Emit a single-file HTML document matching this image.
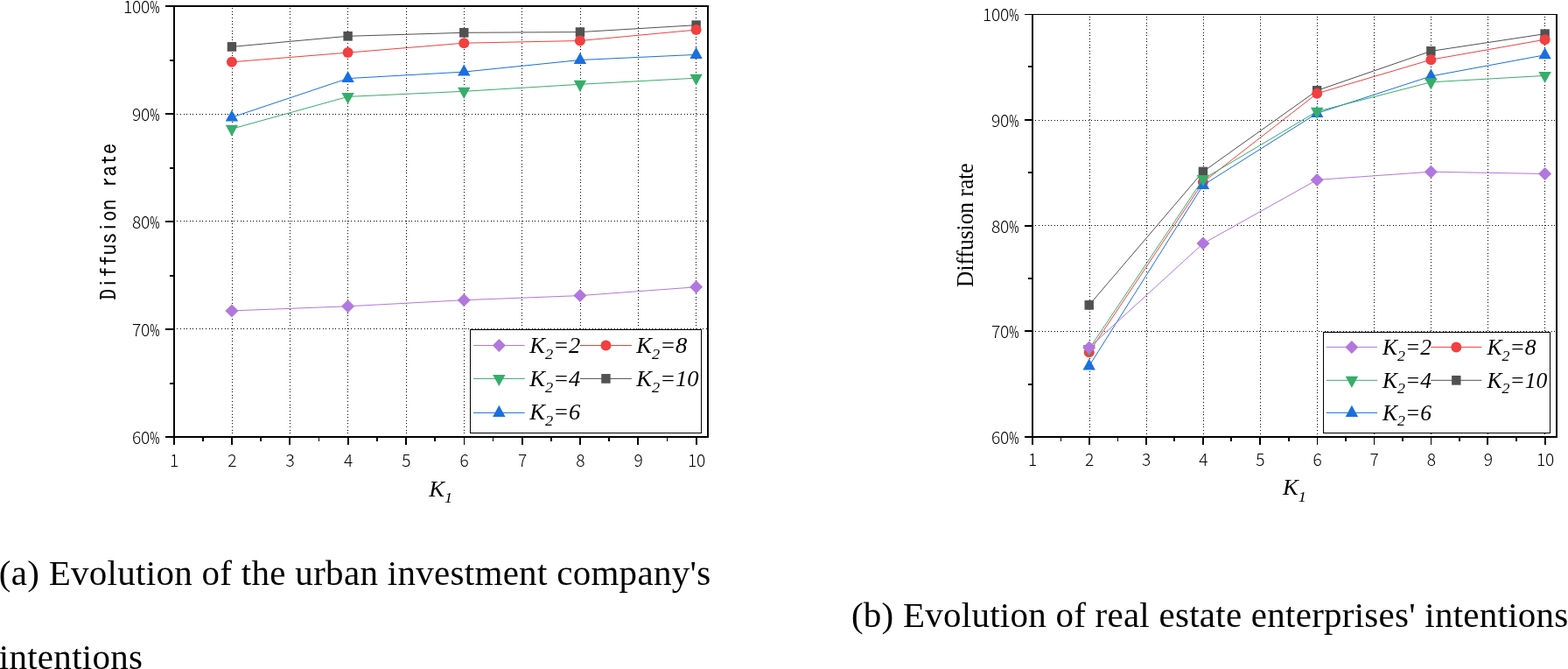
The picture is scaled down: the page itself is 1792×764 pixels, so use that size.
<!DOCTYPE html>
<html lang="en">
<head>
<meta charset="utf-8">
<title>Evolution of intentions</title>
<style>
html, body { margin: 0; padding: 0; background: #ffffff; }
body { width: 1792px; height: 764px; overflow: hidden; position: relative; }
svg { position: absolute; left: 0; top: 0; display: block; }
.cap { position: absolute; margin: 0; font-family: "Liberation Serif", serif; font-size: 41px; line-height: 95px; color: #000; white-space: nowrap; }
</style>
</head>
<body>
<svg width="1792" height="764" viewBox="0 0 1792 764">
<rect x="0" y="0" width="1792" height="764" fill="#ffffff"/>
<g id="chart-a">
<g stroke="#000" stroke-width="1" stroke-dasharray="1 2.620" fill="none" shape-rendering="crispEdges">
<line x1="265.5" y1="9.16" x2="265.5" y2="498"/>
<line x1="331.5" y1="9.16" x2="331.5" y2="498"/>
<line x1="397.5" y1="9.16" x2="397.5" y2="498"/>
<line x1="464.5" y1="9.16" x2="464.5" y2="498"/>
<line x1="530.5" y1="9.16" x2="530.5" y2="498"/>
<line x1="596.5" y1="9.16" x2="596.5" y2="498"/>
<line x1="663.5" y1="9.16" x2="663.5" y2="498"/>
<line x1="729.5" y1="9.16" x2="729.5" y2="498"/>
<line x1="795.5" y1="9.16" x2="795.5" y2="498"/>
<line x1="202.31" y1="130.5" x2="808" y2="130.5"/>
<line x1="202.31" y1="252.5" x2="808" y2="252.5"/>
<line x1="202.31" y1="375.5" x2="808" y2="375.5"/>
</g>
<polyline points="264.93,53.4 397.6,41.3 530.27,37.3 662.93,36.6 795.6,28.7" fill="none" stroke="#515151" stroke-width="1"/>
<rect x="259.73" y="48.05" width="10.4" height="10.7" fill="#515151"/>
<rect x="392.4" y="35.95" width="10.4" height="10.7" fill="#515151"/>
<rect x="525.07" y="31.95" width="10.4" height="10.7" fill="#515151"/>
<rect x="657.73" y="31.25" width="10.4" height="10.7" fill="#515151"/>
<rect x="790.4" y="23.35" width="10.4" height="10.7" fill="#515151"/>
<polyline points="264.93,70.8 397.6,60.1 530.27,49.2 662.93,46.5 795.6,34.1" fill="none" stroke="#F14040" stroke-width="1"/>
<circle cx="264.93" cy="70.8" r="6" fill="#F14040"/>
<circle cx="397.6" cy="60.1" r="6" fill="#F14040"/>
<circle cx="530.27" cy="49.2" r="6" fill="#F14040"/>
<circle cx="662.93" cy="46.5" r="6" fill="#F14040"/>
<circle cx="795.6" cy="34.1" r="6" fill="#F14040"/>
<polyline points="264.93,134 397.6,89.6 530.27,82.1 662.93,68.5 795.6,62.4" fill="none" stroke="#1A6FDF" stroke-width="1"/>
<polygon points="264.93,125.4 272.13,138.5 257.73,138.5" fill="#1A6FDF"/>
<polygon points="397.6,81 404.8,94.1 390.4,94.1" fill="#1A6FDF"/>
<polygon points="530.27,73.5 537.47,86.6 523.07,86.6" fill="#1A6FDF"/>
<polygon points="662.93,59.9 670.13,73 655.73,73" fill="#1A6FDF"/>
<polygon points="795.6,53.8 802.8,66.9 788.4,66.9" fill="#1A6FDF"/>
<polyline points="264.93,147.2 397.6,110.4 530.27,104.3 662.93,96.3 795.6,89.2" fill="none" stroke="#37AD6B" stroke-width="1"/>
<polygon points="264.93,155.8 272.13,142.7 257.73,142.7" fill="#37AD6B"/>
<polygon points="397.6,119 404.8,105.9 390.4,105.9" fill="#37AD6B"/>
<polygon points="530.27,112.9 537.47,99.8 523.07,99.8" fill="#37AD6B"/>
<polygon points="662.93,104.9 670.13,91.8 655.73,91.8" fill="#37AD6B"/>
<polygon points="795.6,97.8 802.8,84.7 788.4,84.7" fill="#37AD6B"/>
<polyline points="264.93,354.9 397.6,349.8 530.27,342.7 662.93,337.6 795.6,327.8" fill="none" stroke="#B177DE" stroke-width="1"/>
<polygon points="264.93,347.4 272.43,354.9 264.93,362.4 257.43,354.9" fill="#B177DE"/>
<polygon points="397.6,342.3 405.1,349.8 397.6,357.3 390.1,349.8" fill="#B177DE"/>
<polygon points="530.27,335.2 537.77,342.7 530.27,350.2 522.77,342.7" fill="#B177DE"/>
<polygon points="662.93,330.1 670.43,337.6 662.93,345.1 655.43,337.6" fill="#B177DE"/>
<polygon points="795.6,320.3 803.1,327.8 795.6,335.3 788.1,327.8" fill="#B177DE"/>
<g fill="#000" shape-rendering="crispEdges">
<rect x="198" y="6" width="2" height="494"/>
<rect x="808" y="6" width="2" height="494"/>
<rect x="198" y="498" width="612" height="2"/>
<rect x="198" y="6" width="612" height="2"/>
<rect x="198" y="500" width="2" height="8"/>
<rect x="231" y="500" width="2" height="4"/>
<rect x="264" y="500" width="2" height="8"/>
<rect x="297" y="500" width="2" height="4"/>
<rect x="330" y="500" width="2" height="8"/>
<rect x="364" y="500" width="1" height="4"/>
<rect x="397" y="500" width="2" height="8"/>
<rect x="430" y="500" width="2" height="4"/>
<rect x="463" y="500" width="2" height="8"/>
<rect x="496" y="500" width="2" height="4"/>
<rect x="530" y="500" width="1" height="8"/>
<rect x="563" y="500" width="1" height="4"/>
<rect x="596" y="500" width="2" height="8"/>
<rect x="629" y="500" width="2" height="4"/>
<rect x="662" y="500" width="2" height="8"/>
<rect x="695" y="500" width="2" height="4"/>
<rect x="728" y="500" width="2" height="8"/>
<rect x="762" y="500" width="1" height="4"/>
<rect x="795" y="500" width="2" height="8"/>
<rect x="189" y="6" width="9" height="2"/>
<rect x="194" y="68" width="4" height="2"/>
<rect x="189" y="129" width="9" height="2"/>
<rect x="194" y="191" width="4" height="2"/>
<rect x="189" y="252" width="9" height="2"/>
<rect x="194" y="314" width="4" height="2"/>
<rect x="189" y="375" width="9" height="2"/>
<rect x="194" y="437" width="4" height="2"/>
<rect x="189" y="498" width="9" height="2"/>
</g>
<g font-family='"Noto Sans CJK SC", "Liberation Sans", sans-serif' font-weight="300" font-size="19.2" fill="#000">
<text y="533.2"><tspan x="193.9">1</tspan></text>
<text y="533.2"><tspan x="260.23">2</tspan></text>
<text y="533.2"><tspan x="326.57">3</tspan></text>
<text y="533.2"><tspan x="392.9">4</tspan></text>
<text y="533.2"><tspan x="459.23">5</tspan></text>
<text y="533.2"><tspan x="525.57">6</tspan></text>
<text y="533.2"><tspan x="591.9">7</tspan></text>
<text y="533.2"><tspan x="658.23">8</tspan></text>
<text y="533.2"><tspan x="724.57">9</tspan></text>
<text y="533.2"><tspan x="785.9 795.9">10</tspan></text>
<text y="15"><tspan x="141 151 161">100</tspan><tspan x="171.2" textLength="11.2" lengthAdjust="spacingAndGlyphs" font-weight="400">%</tspan></text>
<text y="138"><tspan x="151 161">90</tspan><tspan x="171.2" textLength="11.2" lengthAdjust="spacingAndGlyphs" font-weight="400">%</tspan></text>
<text y="261"><tspan x="151 161">80</tspan><tspan x="171.2" textLength="11.2" lengthAdjust="spacingAndGlyphs" font-weight="400">%</tspan></text>
<text y="384"><tspan x="151 161">70</tspan><tspan x="171.2" textLength="11.2" lengthAdjust="spacingAndGlyphs" font-weight="400">%</tspan></text>
<text y="507"><tspan x="151 161">60</tspan><tspan x="171.2" textLength="11.2" lengthAdjust="spacingAndGlyphs" font-weight="400">%</tspan></text>
</g>
<text transform="translate(132.6,253) rotate(-90) scale(1,1)" text-anchor="middle" font-family='"IPAGothic", "Liberation Mono", monospace' font-size="25.6" fill="#000">Diffusion rate</text>
<text transform="translate(490.3,566.7) scale(1.04,1)" font-family='"Liberation Serif", serif' font-style="italic" font-size="25.6" fill="#000">K<tspan font-size="17.6" dy="7.4">1</tspan></text>
<rect x="537.5" y="376.5" width="264" height="118" fill="#fff" stroke="#000" stroke-width="1" shape-rendering="crispEdges"/>
<line x1="541" y1="394.5" x2="599.7" y2="394.5" stroke="#B177DE" stroke-width="1"/>
<polygon points="570.35,387 577.85,394.5 570.35,402 562.85,394.5" fill="#B177DE"/>
<text transform="translate(605.2,403.2) scale(1.07,1)" font-family='"Liberation Serif", serif' font-style="italic" font-size="24.85" fill="#000">K<tspan font-size="17.2" dy="6.4">2</tspan><tspan dy="-6.4">=2</tspan></text>
<line x1="541" y1="432.4" x2="599.7" y2="432.4" stroke="#37AD6B" stroke-width="1"/>
<polygon points="570.35,441 577.55,427.9 563.15,427.9" fill="#37AD6B"/>
<text transform="translate(605.2,441.1) scale(1.07,1)" font-family='"Liberation Serif", serif' font-style="italic" font-size="24.85" fill="#000">K<tspan font-size="17.2" dy="6.4">2</tspan><tspan dy="-6.4">=4</tspan></text>
<line x1="541" y1="471.4" x2="599.7" y2="471.4" stroke="#1A6FDF" stroke-width="1"/>
<polygon points="570.35,462.8 577.55,475.9 563.15,475.9" fill="#1A6FDF"/>
<text transform="translate(605.2,479.3) scale(1.07,1)" font-family='"Liberation Serif", serif' font-style="italic" font-size="24.85" fill="#000">K<tspan font-size="17.2" dy="6.4">2</tspan><tspan dy="-6.4">=6</tspan></text>
<line x1="663" y1="394.5" x2="721.9" y2="394.5" stroke="#F14040" stroke-width="1"/>
<circle cx="692.45" cy="394.5" r="6" fill="#F14040"/>
<text transform="translate(727.2,403.2) scale(1.07,1)" font-family='"Liberation Serif", serif' font-style="italic" font-size="24.85" fill="#000">K<tspan font-size="17.2" dy="6.4">2</tspan><tspan dy="-6.4">=8</tspan></text>
<line x1="663" y1="432.4" x2="721.9" y2="432.4" stroke="#515151" stroke-width="1"/>
<rect x="687.25" y="427.05" width="10.4" height="10.7" fill="#515151"/>
<text transform="translate(727.2,441.1) scale(1.07,1)" font-family='"Liberation Serif", serif' font-style="italic" font-size="24.85" fill="#000">K<tspan font-size="17.2" dy="6.4">2</tspan><tspan dy="-6.4">=10</tspan></text>
</g>
<g id="chart-b">
<g stroke="#000" stroke-width="1" stroke-dasharray="1 2.550" fill="none" shape-rendering="crispEdges">
<line x1="1245.5" y1="18.82" x2="1245.5" y2="498"/>
<line x1="1310.5" y1="18.82" x2="1310.5" y2="498"/>
<line x1="1375.5" y1="18.82" x2="1375.5" y2="498"/>
<line x1="1440.5" y1="18.82" x2="1440.5" y2="498"/>
<line x1="1505.5" y1="18.82" x2="1505.5" y2="498"/>
<line x1="1570.5" y1="18.82" x2="1570.5" y2="498"/>
<line x1="1635.5" y1="18.82" x2="1635.5" y2="498"/>
<line x1="1700.5" y1="18.82" x2="1700.5" y2="498"/>
<line x1="1765.5" y1="18.82" x2="1765.5" y2="498"/>
<line x1="1183.47" y1="137.5" x2="1778" y2="137.5"/>
<line x1="1183.47" y1="257.5" x2="1778" y2="257.5"/>
<line x1="1183.47" y1="378.5" x2="1778" y2="378.5"/>
</g>
<polyline points="1244.71,348.4 1374.93,196 1505.16,103.4 1635.38,58.4 1765.6,38.7" fill="none" stroke="#515151" stroke-width="1"/>
<rect x="1239.51" y="343.05" width="10.4" height="10.7" fill="#515151"/>
<rect x="1369.73" y="190.65" width="10.4" height="10.7" fill="#515151"/>
<rect x="1499.96" y="98.05" width="10.4" height="10.7" fill="#515151"/>
<rect x="1630.18" y="53.05" width="10.4" height="10.7" fill="#515151"/>
<rect x="1760.4" y="33.35" width="10.4" height="10.7" fill="#515151"/>
<polyline points="1244.71,402.2 1374.93,208.1 1505.16,106.75 1635.38,68.2 1765.6,45.2" fill="none" stroke="#F14040" stroke-width="1"/>
<circle cx="1244.71" cy="402.2" r="6" fill="#F14040"/>
<circle cx="1374.93" cy="208.1" r="6" fill="#F14040"/>
<circle cx="1505.16" cy="106.75" r="6" fill="#F14040"/>
<circle cx="1635.38" cy="68.2" r="6" fill="#F14040"/>
<circle cx="1765.6" cy="45.2" r="6" fill="#F14040"/>
<polyline points="1244.71,418 1374.93,211.5 1505.16,129.4 1635.38,87 1765.6,62.8" fill="none" stroke="#1A6FDF" stroke-width="1"/>
<polygon points="1244.71,409.4 1251.91,422.5 1237.51,422.5" fill="#1A6FDF"/>
<polygon points="1374.93,202.9 1382.13,216 1367.73,216" fill="#1A6FDF"/>
<polygon points="1505.16,120.8 1512.36,133.9 1497.96,133.9" fill="#1A6FDF"/>
<polygon points="1635.38,78.4 1642.58,91.5 1628.18,91.5" fill="#1A6FDF"/>
<polygon points="1765.6,54.2 1772.8,67.3 1758.4,67.3" fill="#1A6FDF"/>
<polyline points="1244.71,398.5 1374.93,204.6 1505.16,127.3 1635.38,93.8 1765.6,86.4" fill="none" stroke="#37AD6B" stroke-width="1"/>
<polygon points="1244.71,407.1 1251.91,394 1237.51,394" fill="#37AD6B"/>
<polygon points="1374.93,213.2 1382.13,200.1 1367.73,200.1" fill="#37AD6B"/>
<polygon points="1505.16,135.9 1512.36,122.8 1497.96,122.8" fill="#37AD6B"/>
<polygon points="1635.38,102.4 1642.58,89.3 1628.18,89.3" fill="#37AD6B"/>
<polygon points="1765.6,95 1772.8,81.9 1758.4,81.9" fill="#37AD6B"/>
<polyline points="1244.71,397 1374.93,278.1 1505.16,205.4 1635.38,196.2 1765.6,198.5" fill="none" stroke="#B177DE" stroke-width="1"/>
<polygon points="1244.71,389.5 1252.21,397 1244.71,404.5 1237.21,397" fill="#B177DE"/>
<polygon points="1374.93,270.6 1382.43,278.1 1374.93,285.6 1367.43,278.1" fill="#B177DE"/>
<polygon points="1505.16,197.9 1512.66,205.4 1505.16,212.9 1497.66,205.4" fill="#B177DE"/>
<polygon points="1635.38,188.7 1642.88,196.2 1635.38,203.7 1627.88,196.2" fill="#B177DE"/>
<polygon points="1765.6,191 1773.1,198.5 1765.6,206 1758.1,198.5" fill="#B177DE"/>
<g fill="#000" shape-rendering="crispEdges">
<rect x="1179" y="16" width="2" height="484"/>
<rect x="1778" y="16" width="2" height="484"/>
<rect x="1179" y="498" width="601" height="2"/>
<rect x="1179" y="16" width="601" height="1"/>
<rect x="1179" y="500" width="2" height="8"/>
<rect x="1212" y="500" width="1" height="4"/>
<rect x="1244" y="500" width="2" height="8"/>
<rect x="1277" y="500" width="1" height="4"/>
<rect x="1309" y="500" width="2" height="8"/>
<rect x="1341" y="500" width="2" height="4"/>
<rect x="1374" y="500" width="2" height="8"/>
<rect x="1406" y="500" width="2" height="4"/>
<rect x="1439" y="500" width="2" height="8"/>
<rect x="1472" y="500" width="2" height="4"/>
<rect x="1505" y="500" width="1" height="8"/>
<rect x="1537" y="500" width="2" height="4"/>
<rect x="1570" y="500" width="1" height="8"/>
<rect x="1602" y="500" width="2" height="4"/>
<rect x="1635" y="500" width="1" height="8"/>
<rect x="1667" y="500" width="2" height="4"/>
<rect x="1699" y="500" width="2" height="8"/>
<rect x="1732" y="500" width="2" height="4"/>
<rect x="1765" y="500" width="2" height="8"/>
<rect x="1171" y="16" width="8" height="1"/>
<rect x="1175" y="75" width="4" height="2"/>
<rect x="1171" y="136" width="8" height="2"/>
<rect x="1175" y="196" width="4" height="2"/>
<rect x="1171" y="257" width="8" height="2"/>
<rect x="1175" y="317" width="4" height="2"/>
<rect x="1171" y="377" width="8" height="2"/>
<rect x="1175" y="438" width="4" height="2"/>
<rect x="1171" y="498" width="8" height="2"/>
</g>
<g font-family='"Noto Sans CJK SC", "Liberation Sans", sans-serif' font-weight="300" font-size="19.2" fill="#000">
<text y="531.8"><tspan x="1174.9">1</tspan></text>
<text y="531.8"><tspan x="1240.01">2</tspan></text>
<text y="531.8"><tspan x="1305.12">3</tspan></text>
<text y="531.8"><tspan x="1370.23">4</tspan></text>
<text y="531.8"><tspan x="1435.34">5</tspan></text>
<text y="531.8"><tspan x="1500.46">6</tspan></text>
<text y="531.8"><tspan x="1565.57">7</tspan></text>
<text y="531.8"><tspan x="1630.68">8</tspan></text>
<text y="531.8"><tspan x="1695.79">9</tspan></text>
<text y="531.8"><tspan x="1755.9 1765.9">10</tspan></text>
<text y="24.05"><tspan x="1123 1133 1143">100</tspan><tspan x="1153.2" textLength="11.2" lengthAdjust="spacingAndGlyphs" font-weight="400">%</tspan></text>
<text y="144.79"><tspan x="1133 1143">90</tspan><tspan x="1153.2" textLength="11.2" lengthAdjust="spacingAndGlyphs" font-weight="400">%</tspan></text>
<text y="265.52"><tspan x="1133 1143">80</tspan><tspan x="1153.2" textLength="11.2" lengthAdjust="spacingAndGlyphs" font-weight="400">%</tspan></text>
<text y="386.26"><tspan x="1133 1143">70</tspan><tspan x="1153.2" textLength="11.2" lengthAdjust="spacingAndGlyphs" font-weight="400">%</tspan></text>
<text y="507"><tspan x="1133 1143">60</tspan><tspan x="1153.2" textLength="11.2" lengthAdjust="spacingAndGlyphs" font-weight="400">%</tspan></text>
</g>
<text transform="translate(1111.6,257.2) rotate(-90) scale(0.957,1)" text-anchor="middle" font-family='"Liberation Serif", serif' font-size="26.6" fill="#000">Diffusion rate</text>
<text transform="translate(1466.0,565.3) scale(1.04,1)" font-family='"Liberation Serif", serif' font-style="italic" font-size="25.6" fill="#000">K<tspan font-size="17.6" dy="7.4">1</tspan></text>
<rect x="1512.5" y="379.5" width="259" height="115" fill="#fff" stroke="#000" stroke-width="1" shape-rendering="crispEdges"/>
<line x1="1515.8" y1="396.4" x2="1574" y2="396.4" stroke="#B177DE" stroke-width="1"/>
<polygon points="1544.9,388.9 1552.4,396.4 1544.9,403.9 1537.4,396.4" fill="#B177DE"/>
<text transform="translate(1579.9,405.1) scale(1.04,1)" font-family='"Liberation Serif", serif' font-style="italic" font-size="24.6" fill="#000">K<tspan font-size="17.2" dy="6.4">2</tspan><tspan dy="-6.4">=2</tspan></text>
<line x1="1515.8" y1="434.3" x2="1574" y2="434.3" stroke="#37AD6B" stroke-width="1"/>
<polygon points="1544.9,442.9 1552.1,429.8 1537.7,429.8" fill="#37AD6B"/>
<text transform="translate(1579.9,443) scale(1.04,1)" font-family='"Liberation Serif", serif' font-style="italic" font-size="24.6" fill="#000">K<tspan font-size="17.2" dy="6.4">2</tspan><tspan dy="-6.4">=4</tspan></text>
<line x1="1515.8" y1="471.4" x2="1574" y2="471.4" stroke="#1A6FDF" stroke-width="1"/>
<polygon points="1544.9,462.8 1552.1,475.9 1537.7,475.9" fill="#1A6FDF"/>
<text transform="translate(1579.9,479.7) scale(1.04,1)" font-family='"Liberation Serif", serif' font-style="italic" font-size="24.6" fill="#000">K<tspan font-size="17.2" dy="6.4">2</tspan><tspan dy="-6.4">=6</tspan></text>
<line x1="1635.2" y1="396.4" x2="1693.4" y2="396.4" stroke="#F14040" stroke-width="1"/>
<circle cx="1664.3" cy="396.4" r="6" fill="#F14040"/>
<text transform="translate(1699.4,405.1) scale(1.04,1)" font-family='"Liberation Serif", serif' font-style="italic" font-size="24.6" fill="#000">K<tspan font-size="17.2" dy="6.4">2</tspan><tspan dy="-6.4">=8</tspan></text>
<line x1="1635.2" y1="434.3" x2="1693.4" y2="434.3" stroke="#515151" stroke-width="1"/>
<rect x="1659.1" y="428.95" width="10.4" height="10.7" fill="#515151"/>
<text transform="translate(1699.4,443) scale(1.04,1)" font-family='"Liberation Serif", serif' font-style="italic" font-size="24.6" fill="#000">K<tspan font-size="17.2" dy="6.4">2</tspan><tspan dy="-6.4">=10</tspan></text>
</g>
</svg>
<p class="cap" id="cap-a" style="left:-1.3px; top:605.75px; line-height:96.5px; letter-spacing:0.295px;">(a) Evolution of the urban investment company's <br>intentions</p>
<p class="cap" id="cap-b" style="left:972.9px; top:654.5px; letter-spacing:0.25px;">(b) Evolution of real estate enterprises' intentions</p>
</body>
</html>
